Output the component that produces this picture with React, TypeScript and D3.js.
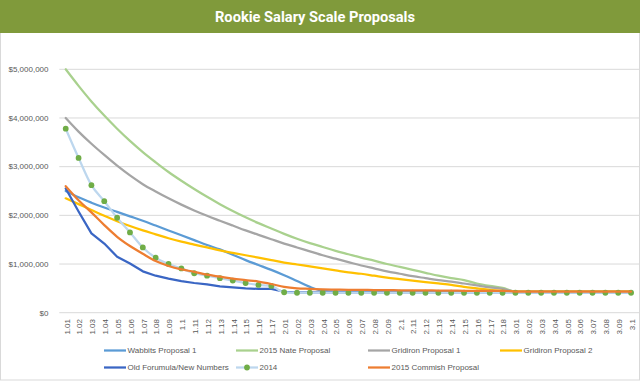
import React from "react";
import * as d3 from "d3";

const categories = [
  "1.01","1.02","1.03","1.04","1.05","1.06","1.07","1.08","1.09","1.1","1.11","1.12","1.13","1.14","1.15","1.16","1.17",
  "2.01","2.02","2.03","2.04","2.05","2.06","2.07","2.08","2.09","2.1","2.11","2.12","2.13","2.14","2.15","2.16","2.17","2.18",
  "3.01","3.02","3.03","3.04","3.05","3.06","3.07","3.08","3.09","3.1",
];

const wabbits = [
  2500000,2370000,2260000,2160000,2070000,1980000,1890000,1790000,1690000,1590000,1490000,1390000,1300000,1190000,1080000,980000,880000,
  770000,650000,530000,450000,435000,435000,435000,435000,435000,435000,435000,435000,435000,435000,435000,435000,435000,435000,
  435000,435000,435000,435000,435000,435000,435000,435000,435000,435000,
];
const nate = [
  5000000,4660000,4340000,4050000,3780000,3530000,3300000,3090000,2890000,2710000,2540000,2380000,2230000,2090000,1960000,1840000,1730000,
  1620000,1520000,1430000,1350000,1270000,1200000,1130000,1070000,1000000,940000,880000,820000,760000,710000,670000,600000,550000,510000,
  435000,435000,435000,435000,435000,435000,435000,435000,435000,435000,
];
const gridiron1 = [
  4000000,3720000,3470000,3240000,3020000,2820000,2640000,2490000,2350000,2220000,2100000,1990000,1890000,1790000,1690000,1600000,1510000,
  1420000,1340000,1260000,1180000,1110000,1040000,970000,910000,850000,800000,750000,710000,670000,640000,600000,560000,520000,490000,
  435000,435000,435000,435000,435000,435000,435000,435000,435000,435000,
];
const gridiron2 = [
  2350000,2230000,2110000,1990000,1880000,1780000,1690000,1610000,1530000,1460000,1400000,1340000,1280000,1230000,1180000,1130000,1080000,
  1030000,990000,950000,910000,870000,830000,800000,760000,720000,690000,660000,630000,600000,570000,530000,500000,470000,450000,
  435000,435000,435000,435000,435000,435000,435000,435000,435000,435000,
];
const oldFormula = [
  2550000,2080000,1630000,1420000,1150000,1010000,850000,760000,700000,650000,610000,580000,540000,520000,500000,490000,490000,
  430000,420000,420000,420000,420000,420000,420000,420000,420000,420000,420000,420000,420000,420000,420000,420000,420000,420000,
  420000,420000,420000,420000,420000,420000,420000,420000,420000,420000,
];
const y2014 = [
  3780000,3180000,2620000,2290000,1950000,1650000,1340000,1130000,1000000,910000,810000,760000,710000,660000,610000,570000,550000,
  420000,410000,410000,410000,410000,410000,410000,410000,410000,410000,410000,410000,410000,410000,410000,410000,410000,410000,
  410000,410000,410000,410000,410000,410000,410000,410000,410000,410000,
];
const commish = [
  2600000,2310000,2060000,1800000,1560000,1370000,1210000,1060000,960000,890000,840000,780000,740000,700000,670000,640000,590000,
  530000,500000,490000,480000,475000,470000,470000,465000,465000,460000,460000,460000,455000,455000,450000,450000,450000,450000,
  435000,435000,435000,435000,435000,435000,435000,435000,435000,435000,
];

const yTicks = [0, 1000000, 2000000, 3000000, 4000000, 5000000];

const seriesNames = [
  "Wabbits Proposal 1",
  "2015 Nate Proposal",
  "Gridiron Proposal 1",
  "Gridiron Proposal 2",
  "Old Forumula/New Numbers",
  "2014",
  "2015 Commish Proposal",
];

const W = 640;
const H = 381;

export default function App() {
  const x = d3.scaleBand<string>().domain(categories).range([59.3, 637.5]);
  const cx = (c: string) => (x(c) as number) + x.bandwidth() / 2;
  const y = d3.scaleLinear().domain([0, 5000000]).range([312.7, 69.3]);
  const fmt = (v: number) => "$" + d3.format(",")(v);

  const smooth = d3
    .line<number>()
    .x((_, i) => cx(categories[i]))
    .y((d) => y(d))
    .curve(d3.curveMonotoneX);
  const straight = d3
    .line<number>()
    .x((_, i) => cx(categories[i]))
    .y((d) => y(d))
    .curve(d3.curveLinear);

  const series = [
    { name: seriesNames[0], data: wabbits, color: "#5B9BD5", smooth: true },
    { name: seriesNames[1], data: nate, color: "#A9D18E", smooth: true },
    { name: seriesNames[2], data: gridiron1, color: "#A5A5A5", smooth: true },
    { name: seriesNames[3], data: gridiron2, color: "#FFC000", smooth: true },
    { name: seriesNames[4], data: oldFormula, color: "#3A66C4", smooth: false },
    { name: seriesNames[5], data: y2014, color: "#BDD7EE", smooth: true, marker: "#70AD47" },
    { name: seriesNames[6], data: commish, color: "#ED7D31", smooth: true },
  ];

  const legendPos = [
    [104, 350.5],
    [236, 350.5],
    [368, 350.5],
    [500, 350.5],
    [104, 367.5],
    [236, 367.5],
    [368, 367.5],
  ];

  const font = "'Liberation Sans', Arial, sans-serif";

  return (
    <svg
      width={W}
      height={H}
      style={{ position: "fixed", left: 0, top: 0, background: "#fff" }}
      fontFamily={font}
    >
      <rect x={0} y={0} width={W} height={H} fill="#fff" />
      <rect x={0.5} y={32} width={W - 1} height={H - 33} fill="#fff" stroke="#D9D9D9" />
      <rect x={0} y={0} width={W} height={33} fill="#809A3B" />
      <text
        x={315}
        y={22}
        textAnchor="middle"
        fill="#fff"
        fontFamily="Roboto, sans-serif"
        fontWeight={700}
        fontSize={15.5}
        textLength={200}
        lengthAdjust="spacingAndGlyphs"
      >
        Rookie Salary Scale Proposals
      </text>

      {yTicks.map((t) => (
        <g key={t}>
          <line x1={59.3} x2={640} y1={y(t)} y2={y(t)} stroke="#D9D9D9" strokeWidth={1} />
          <text x={48.5} y={y(t)} dy="0.35em" textAnchor="end" fontSize={8} fill="#595959">
            {fmt(t)}
          </text>
        </g>
      ))}

      {categories.map((c) => (
        <text
          key={c}
          transform={`translate(${cx(c) + 1},${319}) rotate(-90)`}
          dy="0.35em"
          textAnchor="end"
          fontSize={8}
          fill="#595959"
        >
          {c}
        </text>
      ))}

      {series.map((s) => (
        <g key={s.name}>
          <path
            d={(s.smooth ? smooth : straight)(s.data) as string}
            fill="none"
            stroke={s.color}
            strokeWidth={2.25}
            strokeLinejoin="round"
            strokeLinecap="round"
          />
          {s.marker &&
            s.data.map((v, i) => (
              <circle key={i} cx={cx(categories[i])} cy={y(v)} r={2.9} fill={s.marker} />
            ))}
        </g>
      ))}

      {series.map((s, i) => {
        const [lx, ly] = legendPos[i];
        return (
          <g key={"lg" + s.name}>
            <line x1={lx} x2={lx + 22} y1={ly} y2={ly} stroke={s.color} strokeWidth={2.25} />
            {s.marker && <circle cx={lx + 11} cy={ly} r={2.9} fill={s.marker} />}
            <text x={lx + 23.5} y={ly} dy="0.35em" fontSize={8} fill="#595959">
              {s.name}
            </text>
          </g>
        );
      })}
    </svg>
  );
}
